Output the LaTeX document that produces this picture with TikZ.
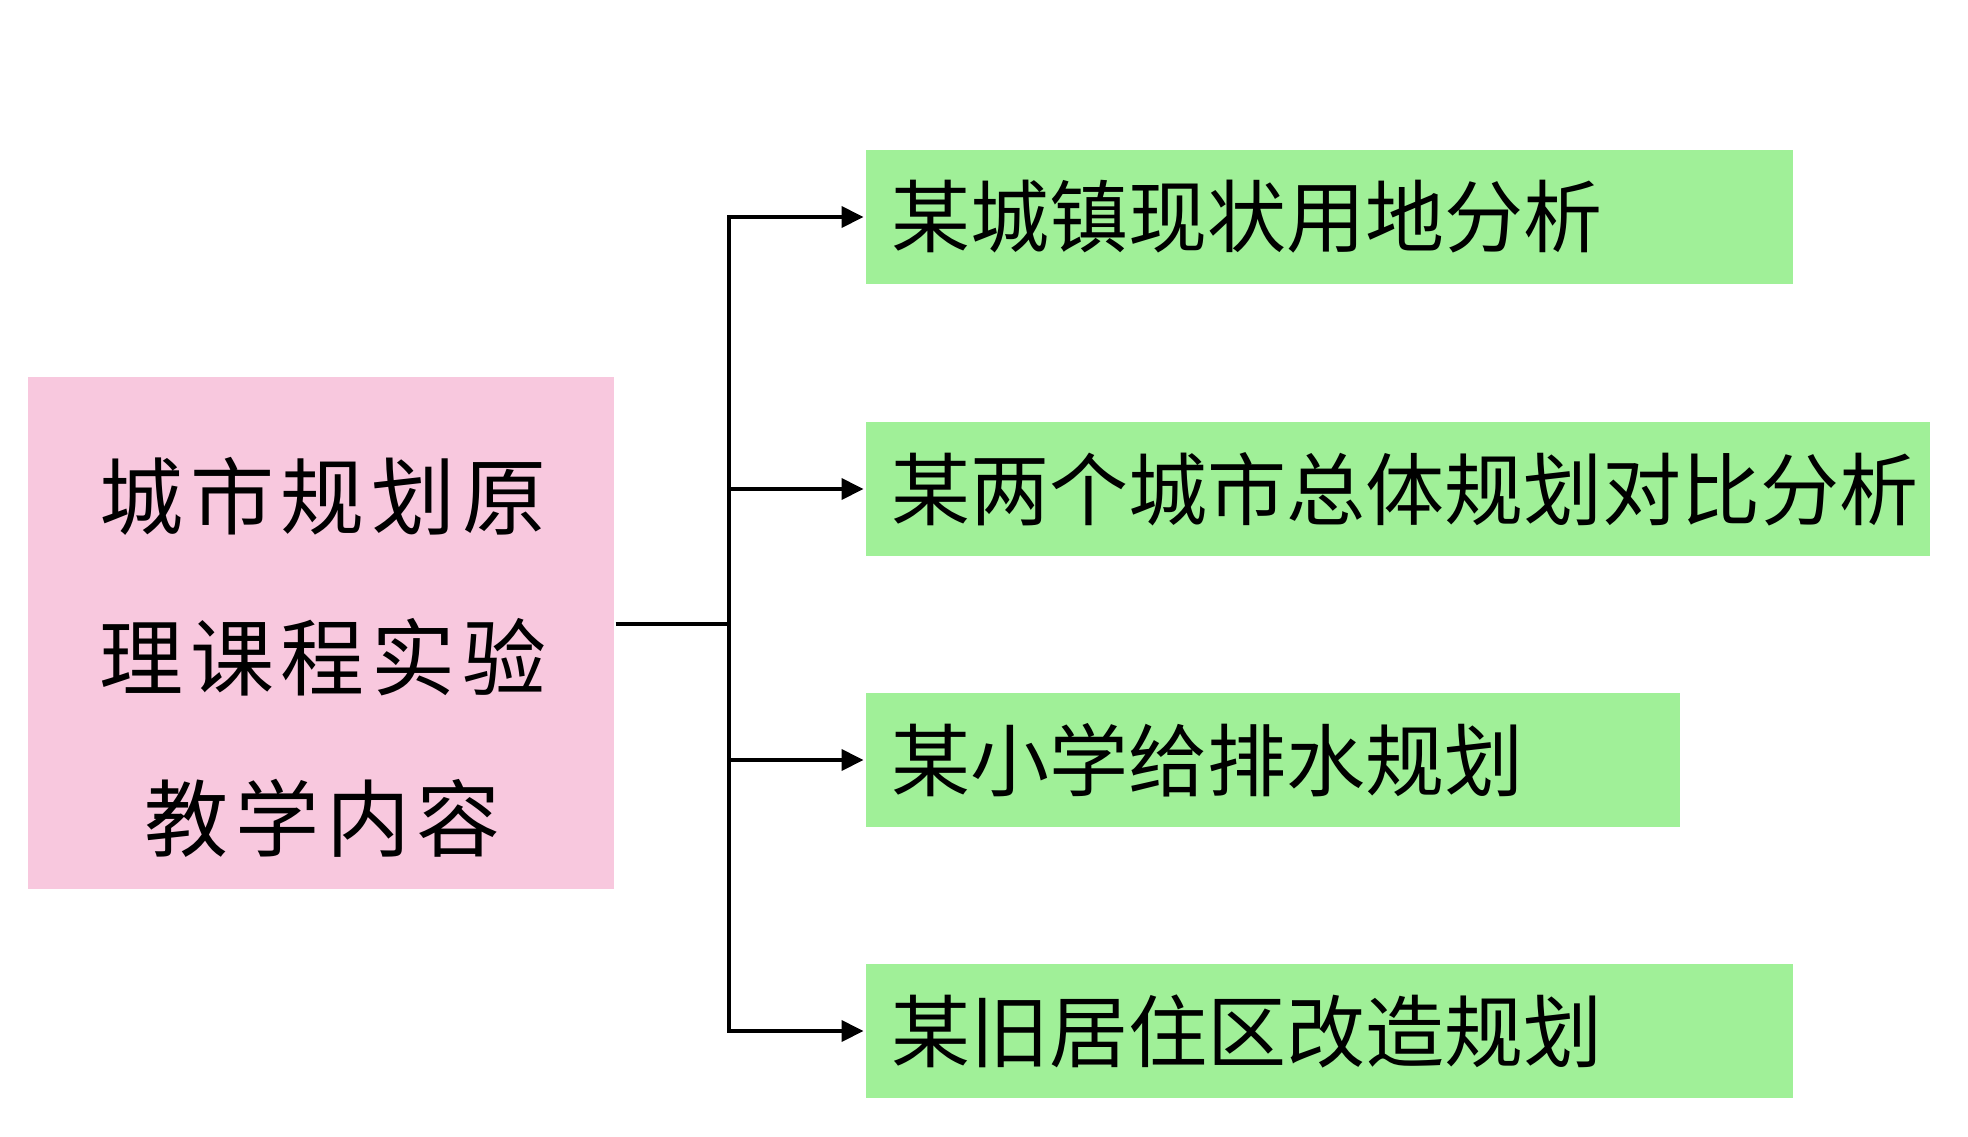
\documentclass[tikz,border=0pt]{standalone}
\usepackage{fontspec}
\usetikzlibrary{arrows.meta}
\newfontfamily\cjk{Noto Sans CJK SC}
\newfontfamily\cjkwide[LetterSpace=8]{Noto Sans CJK SC}
\definecolor{box_pink}{RGB}{248,200,222}
\definecolor{box_green}{RGB}{160,240,152}

\begin{document}
\begin{tikzpicture}[->,line width=4pt,>={Triangle[length=22pt,width=21pt]},x=1pt,y=-1pt]
    \tikzstyle{box}=[draw=none, rectangle, inner sep=0pt, text=black]
    \tikzstyle{main}=[style=box, fill=box_pink, minimum width=586pt, minimum height=512pt]
    \tikzstyle{maintext}=[align=center, font={\cjkwide\fontsize{84pt}{161pt}\selectfont}]
    \tikzstyle{task}=[style=box, fill=box_green, minimum height=134pt, anchor=west, inner xsep=26pt, align=left, font={\cjk\fontsize{79pt}{94pt}\selectfont}]

    \useasboundingbox (0,0) rectangle (1968,1136);
    \node[main] (m) at (320.6,632.5) {};
    \node[maintext] (mt) at (323,657) {城市规划原\\理课程实验\\教学内容};
    \node[task, text width=875.5pt] (t1) at (863.5,217)  {某城镇现状用地分析};
    \node[task, text width=1012pt]  (t2) at (863.5,489)  {某两个城市总体规划对比分析};
    \node[task, text width=762.5pt] (t3) at (863.5,760)  {某小学给排水规划};
    \node[task, text width=875.5pt] (t4) at (863.5,1031) {某旧居住区改造规划};
    \coordinate (j) at (729,624);
    \path
     (m.east |- j) edge[-] (j)
     (j) edge[to path={|- (\tikztotarget)}] (t1.west)
     (j) edge[to path={|- (\tikztotarget)}] (t2.west)
     (j) edge[to path={|- (\tikztotarget)}] (t3.west)
     (j) edge[to path={|- (\tikztotarget)}] (t4.west)
     ;
\end{tikzpicture}
\end{document}
